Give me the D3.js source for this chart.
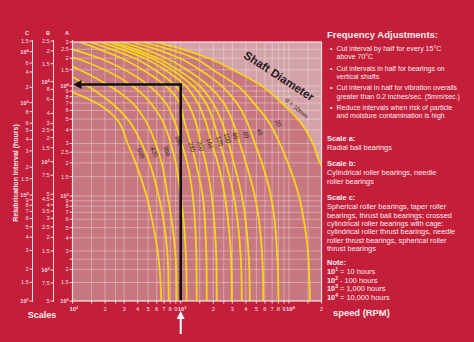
<!DOCTYPE html>
<html lang="en">
<head>
<meta charset="UTF-8">
<script src="https://cdn.jsdelivr.net/npm/d3@7"></script>
<title>Relubrication interval</title>
<style>
  body { margin: 0; background: #c41f3a; }
  svg { display: block; font-family: "Liberation Sans", Arial, sans-serif; }
  .grid line { stroke: #fff; stroke-opacity: .42; stroke-width: .8; }
  .curve { fill: none; stroke: #f9d41a; stroke-width: 1.8; }
  .side line { stroke: #f6dde0; stroke-width: 1; }
  .side text { fill: #f6dde0; font-size: 5.6px; }
  .xlab { fill: #f6dde0; font-size: 5.9px; }
  .clab { fill: #3a2226; font-size: 6.2px; }
  .info { fill: #fbecee; }
</style>
</head>
<body>
<script>
// ---- data ----
const speedTicks = [100,200,300,400,500,600,700,800,900,1000,2000,3000,4000,5000,6000,7000,8000,9000,10000,20000];
const speedLabels = ["10^2","2","3","4","5","6","7","8","9","10^3","2","3","4","5","6","7","8","9","10^4","2"];
const speedMinor = [150,250,1500,2500,15000];

const aTicks = [100,150,200,250,300,400,500,600,700,800,900,1000,1500,2000,2500,3000,4000,5000,6000,7000,8000,9000,10000,15000,20000,25000,30000];
const aLabels = ["10^2","1.5","2","","3","4","5","6","7","8","9","10^3","1.5","2","2.5","3","4","5","6","7","8","9","10^4","1.5","2","2.5","3"];
const bTicks = [50,75,100,150,200,250,300,350,400,450,500,750,1000,1500,2000,2500,3000,4000,6000,8000,10000,15000,20000,25000];
const bLabels = ["5","7.5","10^2","1.5","2","2.5","3","3.5","4","4.5","5","7.5","10^3","1.5","2","2.5","3","4","6","8","10^4","1.5","2","2.5"];
const cTicks = [10,15,20,30,40,50,60,70,80,90,100,150,200,300,400,500,600,800,1000,2000,4000,6000,10000,15000];
const cLabels = ["10^1","1.5","2","3","4","5","6","7","8","9","10^2","1.5","2","3","4","5","6","8","10^3","2","4","6","10^4","1.5"];

// [speed rpm, hours on scale A] along each shaft-diameter curve
const d500 = [[100,8800],[167,7000],[256,5000],[323,3000],[383,2000],[484,1000],[562,500],[612,300],[639,200],[663,100]];
const d420 = [[100,12600],[138,10000],[230,7000],[323,5000],[436,3000],[516,2000],[626,1000],[711,500],[750,300],[766,200],[774,100]];
const d360 = [[100,16300],[116,15000],[220,10000],[359,7000],[464,5000],[587,3000],[667,2000],[758,1000],[843,500],[889,300],[909,200],[918,100]];
const d280 = [[100,20500],[107,20000],[198,15000],[359,10000],[528,7000],[667,5000],[808,3000],[899,2000],[1000,1000],[1078,500],[1113,300],[1129,200],[1136,100]];
const d240 = [[100,25000],[178,20000],[303,15000],[516,10000],[726,7000],[861,5000],[1021,3000],[1149,2000],[1292,1000],[1363,500],[1392,300],[1400,200],[1407,100]];
const d200 = [[116,30000],[178,25000],[284,20000],[445,15000],[726,10000],[979,7000],[1066,5000],[1238,3000],[1377,2000],[1599,1000],[1686,500],[1722,300],[1735,200],[1741,100]];
const d160 = [[144,30000],[230,25000],[375,20000],[574,15000],[899,10000],[1161,7000],[1348,5000],[1532,3000],[1704,2000],[1936,1000],[2064,500],[2123,300],[2145,200],[2154,100]];
const d125 = [[178,30000],[284,25000],[464,20000],[711,15000],[1113,10000],[1437,7000],[1668,5000],[1936,3000],[2201,2000],[2555,1000],[2783,500],[2904,300],[2947,200],[2966,100]];
const d100 = [[211,30000],[337,25000],[539,20000],[825,15000],[1292,10000],[1704,7000],[1979,5000],[2297,3000],[2610,2000],[3095,1000],[3407,500],[3555,300],[3632,200],[3671,100]];
const d80  = [[240,30000],[383,25000],[612,20000],[938,15000],[1499,10000],[1979,7000],[2346,5000],[2783,3000],[3095,2000],[3671,1000],[4043,500],[4217,300],[4308,200],[4354,100]];
const d60  = [[284,30000],[464,25000],[742,20000],[1136,15000],[1817,10000],[2501,7000],[2966,5000],[3518,3000],[4000,2000],[4843,1000],[5389,500],[5623,300],[5744,200],[5805,100]];
const d40  = [[352,30000],[599,25000],[979,20000],[1499,15000],[2397,10000],[3300,7000],[4000,5000],[4843,3000],[5623,2000],[6813,1000],[7499,500],[7743,300],[7910,200],[7995,100]];
const d20  = [[436,30000],[791,25000],[1348,20000],[1979,15000],[3372,10000],[4742,7000],[6257,5000],[8254,3000],[9788,2000],[12380,1000],[14070,500],[14990,300],[15320,200],[15650,100]];
const d10  = [[574,30000],[1043,25000],[1817,20000],[3030,15000],[5623,10000],[8614,7000],[12110,5000],[16680,3000],[19360,2000],[21500,1700]];

const curveData = [d500,d420,d360,d280,d240,d200,d160,d125,d100,d80,d60,d40,d20,d10];
const curveNames = ["500","420","360","280","240","200","160","125","100","80","60","40","20","d = 10mm"];
const labelHours = [2380,2450,2510,3100,2730,2790,2960,3100,3300,3450,3520,3740,4440,5900];

const exampleSpeed = 1000, exampleHours = 10400;

const bullets = [
  ["Cut interval by half for every 15°C", "above 70°C"],
  ["Cut intervals in half for bearings on", "vertical shafts"],
  ["Cut interval in half for vibration overalls", "greater than 0.2 inches/sec. (5mm/sec.)"],
  ["Reduce intervals when risk of particle", "and moisture contamination is high"]
];
const scaleNotes = [
  ["Scale a:", ["Radial ball bearings"]],
  ["Scale b:", ["Cylindrical roller bearings, needle", "roller bearings"]],
  ["Scale c:", ["Spherical roller bearings, taper roller", "bearings, thrust ball bearings; crossed",
    "cylindrical roller bearings with cage:", "cylindrical roller thrust bearings, needle",
    "roller thrust bearings, spherical roller", "thrust bearings"]]
];
const noteExp = ["1","2","3","4"];
const noteText = [" = 10 hours"," - 100 hours"," = 1,000 hours"," = 10,000 hours"];

// ---- scales ----
const svg = d3.select('body').append('svg').attr('width', 474).attr('height', 342);
svg.append('rect').attr('width', 474).attr('height', 342).attr('fill', '#c41f3a');

const x = d3.scaleLog().domain([100, 20000]).range([72.5, 321.5]);
const yA = d3.scaleLog().domain([100, 1000, 10000, 30000]).range([301, 196, 86, 42]);
const yB = d3.scaleLog().domain([50, 100, 1000, 10000, 25000]).range([301, 270, 161.7, 81.7, 41]);
const yC = d3.scaleLog().domain([10, 100, 1000, 10000, 15000]).range([301, 195, 102.7, 51.7, 41]);

const x0 = x(100), x1 = x(20000), yTop = yA(30000), yBot = yA(100);

function supText(sel, s) {
  const parts = s.split('^');
  sel.append('tspan').text(parts[0]);
  if (parts[1]) {
    sel.attr('font-weight', 'bold');
    sel.append('tspan').attr('dy', '-0.4em').attr('font-size', '0.7em').text(parts[1]);
  }
  return parts.length > 1;
}

// ---- plot background ----
svg.append('clipPath').attr('id', 'plotclip')
  .append('rect').attr('x', x0).attr('y', yTop).attr('width', x1 - x0).attr('height', yBot - yTop);

const plot = svg.append('g').attr('clip-path', 'url(#plotclip)');
plot.append('rect').attr('x', x0).attr('y', yTop).attr('width', x1 - x0).attr('height', yBot - yTop)
  .attr('fill', '#d4a2a9');

const line = d3.line().x(d => x(d[0])).y(d => yA(d[1])).curve(d3.curveMonotoneY);

// darker zone under the d = 10mm curve
plot.append('path')
  .attr('d', line(d10) + `L${x1 + 5},${yBot}L${x0},${yBot}L${x0},${yTop}Z`)
  .attr('fill', '#c6777f');

const grid = plot.append('g').attr('class', 'grid');
speedTicks.concat(speedMinor).forEach(s => {
  grid.append('line').attr('x1', x(s)).attr('x2', x(s)).attr('y1', yTop).attr('y2', yBot);
});
aTicks.forEach(h => {
  grid.append('line').attr('x1', x0).attr('x2', x1).attr('y1', yA(h)).attr('y2', yA(h));
});

// ---- curves ----
plot.selectAll('path.curve').data(curveData).enter().append('path')
  .attr('class', 'curve').attr('d', d => line(d));

function pointAt(pts, h) {
  for (let i = 1; i < pts.length; i++) {
    const [s0, h0] = pts[i - 1], [s1, h1] = pts[i];
    if (h <= h0 && h >= h1) {
      const t = Math.log(h0 / h) / Math.log(h0 / h1);
      const s = s0 * Math.pow(s1 / s0, t);
      const ang = Math.atan2(yA(h1) - yA(h0), x(s1) - x(s0)) * 180 / Math.PI;
      return [x(s), yA(h), ang];
    }
  }
  return [x(pts[0][0]), yA(pts[0][1]), 60];
}

curveData.forEach((pts, i) => {
  const [px, py, ang] = pointAt(pts, labelHours[i]);
  const last = i === curveData.length - 1;
  svg.append('text').attr('class', 'clab')
    .attr('transform', `translate(${px + (last ? 4 : 5.5)},${py}) rotate(${last ? ang - 5 : ang})`)
    .attr('text-anchor', 'middle').attr('dy', last ? '-0.3em' : '-0.2em')
    .text(curveNames[i]);
});

svg.append('text')
  .attr('transform', `translate(${x(7740)},${yA(11800)}) rotate(33)`)
  .attr('text-anchor', 'middle').attr('font-weight', 'bold').attr('font-size', 11.5)
  .attr('fill', '#2b1c1f').text('Shaft Diameter');

// ---- worked example ----
svg.append('path')
  .attr('d', `M${x(exampleSpeed)},${yBot}V${yA(exampleHours)}H${x0 + 6}`)
  .attr('fill', 'none').attr('stroke', '#111').attr('stroke-width', 2.6);
svg.append('path')
  .attr('d', `M${x0 + 1},${yA(exampleHours)}l8,-4.5v9z`).attr('fill', '#111');

svg.append('line').attr('x1', x(exampleSpeed)).attr('x2', x(exampleSpeed))
  .attr('y1', 334).attr('y2', 317).attr('stroke', '#fff').attr('stroke-width', 2);
svg.append('path').attr('d', `M${x(exampleSpeed)},311l-4,8h8z`).attr('fill', '#fff');

// plot frame
svg.append('rect').attr('x', x0).attr('y', yTop).attr('width', x1 - x0).attr('height', yBot - yTop)
  .attr('fill', 'none').attr('stroke', '#f3dfe2').attr('stroke-width', 1.2);

// ---- x axis ----
const xg = svg.append('g');
speedTicks.concat(speedMinor).forEach(s => {
  xg.append('line').attr('x1', x(s)).attr('x2', x(s)).attr('y1', yBot).attr('y2', yBot + 2.5)
    .attr('stroke', '#f6dde0').attr('stroke-width', 1);
});
speedTicks.forEach((s, i) => {
  const t = xg.append('text').attr('class', 'xlab').attr('y', 310.5);
  if (supText(t, speedLabels[i])) {
    t.attr('x', x(s) - 3).attr('text-anchor', 'start').attr('font-size', 5.6);
  } else {
    t.attr('x', x(s)).attr('text-anchor', 'middle');
  }
});

// ---- side scales ----
function sideAxis(scale, ticks, labels, xl, name) {
  const g = svg.append('g').attr('class', 'side');
  g.append('line').attr('x1', xl).attr('x2', xl).attr('y1', 40).attr('y2', yBot + 1);
  ticks.forEach((t, i) => {
    g.append('line').attr('x1', xl - 3).attr('x2', xl).attr('y1', scale(t)).attr('y2', scale(t));
    if (labels[i]) {
      const tx = g.append('text').attr('x', xl - 3.8).attr('y', scale(t)).attr('dy', '0.35em')
        .attr('text-anchor', 'end');
      supText(tx, labels[i]);
    }
  });
  g.append('text').attr('x', xl - 5.5).attr('y', 35).attr('text-anchor', 'middle')
    .attr('font-weight', 'bold').attr('font-size', 7).text(name);
}
sideAxis(yC, cTicks, cLabels, 32.5, 'C');
sideAxis(yB, bTicks, bLabels, 53.5, 'B');
sideAxis(yA, aTicks, aLabels, x0, 'A');

svg.append('text').attr('class', 'info')
  .attr('transform', 'translate(17.5,173) rotate(-90)').attr('text-anchor', 'middle')
  .attr('font-weight', 'bold').attr('font-size', 7).text('Relubrication Interval (hours)');
svg.append('text').attr('class', 'info').attr('x', 42).attr('y', 318).attr('text-anchor', 'middle')
  .attr('font-weight', 'bold').attr('font-size', 9).text('Scales');
svg.append('text').attr('class', 'info').attr('x', 333).attr('y', 316)
  .attr('font-weight', 'bold').attr('font-size', 9.4).text('speed (RPM)');

// ---- notes on the right ----
const info = svg.append('g').attr('class', 'info');
info.append('text').attr('x', 327).attr('y', 38).attr('font-weight', 'bold').attr('font-size', 9.5)
  .text('Frequency Adjustments:');
bullets.forEach((b, i) => {
  const y0 = 51 + i * 19.7;
  info.append('text').attr('x', 330).attr('y', y0).attr('font-size', 7).text('•');
  b.forEach((ln, j) => {
    info.append('text').attr('x', 336.5).attr('y', y0 + j * 8.2).attr('font-size', 7).text(ln);
  });
});

let yy = 141;
scaleNotes.forEach(([head, lines]) => {
  info.append('text').attr('x', 327).attr('y', yy).attr('font-weight', 'bold').attr('font-size', 7.5).text(head);
  lines.forEach((ln, j) => {
    info.append('text').attr('x', 327).attr('y', yy + 9 + j * 8.4).attr('font-size', 7.4).text(ln);
  });
  yy += 9 + lines.length * 8.4 + 8;
});

info.append('text').attr('x', 327).attr('y', 265).attr('font-weight', 'bold').attr('font-size', 7.5).text('Note:');
noteExp.forEach((e, i) => {
  const t = info.append('text').attr('x', 327).attr('y', 273.8 + i * 8.8).attr('font-size', 7.4);
  t.append('tspan').attr('font-weight', 'bold').text('10');
  t.append('tspan').attr('font-weight', 'bold').attr('font-size', 5).attr('dy', -3).text(e);
  t.append('tspan').attr('dy', 3).text(noteText[i]);
});
</script>
</body>
</html>
